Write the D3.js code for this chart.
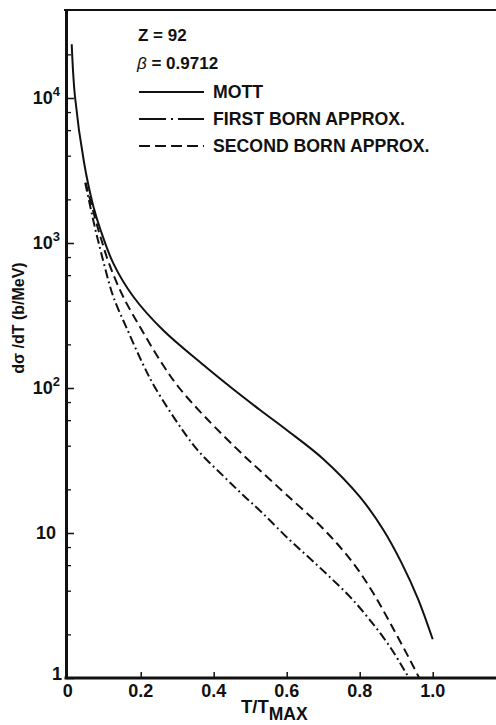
<!DOCTYPE html>
<html>
<head>
<meta charset="utf-8">
<script src="https://cdn.jsdelivr.net/npm/d3@7"></script>
<style>
  body { margin: 0; background: #fff; }
  svg { display: block; }
  text { font-family: "Liberation Sans", Arial, sans-serif; font-weight: bold; fill: #111; }
</style>
</head>
<body>
<div id="chart"></div>
<script>
// curves: T/Tmax and dsigma/dT (b/MeV)
var mottT   = [0.011, 0.02, 0.045, 0.07, 0.09, 0.125, 0.18, 0.261, 0.372, 0.445, 0.527, 0.6, 0.70, 0.80, 0.865, 0.915, 0.96, 1.0];
var mottV   = [23500, 10200, 3560, 1800, 1230, 724, 426, 251, 144, 102, 70.5, 51.3, 32.4, 17.8, 10.5, 6.2, 3.5, 1.85];

var born1T  = [0.048, 0.076, 0.085, 0.099, 0.125, 0.164, 0.205, 0.238, 0.315, 0.36, 0.428, 0.48, 0.534, 0.609, 0.663, 0.717, 0.773, 0.828, 0.883, 0.935];
var born1V  = [2600, 1230, 1000, 724, 426, 251, 148, 102, 51, 36.3, 24.5, 18.3, 13.7, 8.9, 6.7, 5.0, 3.64, 2.51, 1.64, 1.0];

var born2T  = [0.049, 0.084, 0.095, 0.113, 0.152, 0.203, 0.258, 0.303, 0.376, 0.481, 0.527, 0.6, 0.70, 0.778, 0.837, 0.888, 0.938, 0.963];
var born2V  = [2600, 1230, 1000, 724, 426, 251, 148, 102, 63.3, 34.5, 27.0, 18.3, 10.7, 6.4, 3.86, 2.28, 1.33, 1.0];

var xTicks = [0.2, 0.4, 0.6, 0.8, 1.0];
var xTickLabels = ["0", "0.2", "0.4", "0.6", "0.8", "1.0"];
var yMajor = [1, 10, 100, 1000, 10000];
var yMinor = [2, 4, 6, 8, 20, 40, 60, 80, 200, 400, 600, 800, 2000, 4000, 6000, 8000, 20000];

var legendNames = ["MOTT", "FIRST BORN APPROX.", "SECOND BORN APPROX."];
var curveDash = [null, "9,3.5,1.8,3.5", "9,5"];
var legendDash = [null, "27,5,2,5", "11,5"];

var W = 496, H = 725;
var svg = d3.select("#chart").append("svg")
    .attr("width", W)
    .attr("height", H);

var axLeft = 66, axBottom = 678, axTop = 10;

var x = d3.scaleLinear()
    .domain([0, 1])
    .range([67.7, 432.7]);

// 145 px per decade, 1 at the bottom axis
var y = d3.scaleLog()
    .domain([1, Math.pow(10, (axBottom - axTop) / 145)])
    .range([axBottom, axTop]);

// top frame
svg.append("line")
    .attr("x1", axLeft - 2).attr("x2", W)
    .attr("y1", axTop).attr("y2", axTop)
    .style("stroke", "#111").style("stroke-width", 2);

// left axis, major + minor ticks pointing inwards
var yAxisMaj = svg.append("g")
    .attr("transform", "translate(" + axLeft + ",0)")
    .call(d3.axisLeft(y).tickValues(yMajor).tickSizeInner(-8).tickSizeOuter(0).tickFormat(""));
yAxisMaj.select(".domain").style("stroke-width", 3).style("stroke", "#111");
yAxisMaj.selectAll(".tick line").style("stroke-width", 1.5).style("stroke", "#111");

var yAxisMin = svg.append("g")
    .attr("transform", "translate(" + axLeft + ",0)")
    .call(d3.axisLeft(y).tickValues(yMinor).tickSizeInner(-5).tickSizeOuter(0).tickFormat(""));
yAxisMin.select(".domain").remove();
yAxisMin.selectAll(".tick line").style("stroke-width", 1.3).style("stroke", "#111");

// bottom axis
var xAxis = svg.append("g")
    .attr("transform", "translate(0," + axBottom + ")")
    .call(d3.axisBottom(x).tickValues(xTicks).tickSizeInner(-6).tickSizeOuter(0).tickFormat(""));
xAxis.select(".domain").remove();
xAxis.selectAll(".tick line").style("stroke-width", 1.5).style("stroke", "#111");
svg.append("line")
    .attr("x1", axLeft - 1.5).attr("x2", W)
    .attr("y1", axBottom).attr("y2", axBottom)
    .style("stroke", "#111").style("stroke-width", 3);

// x tick labels
svg.selectAll(".xlab")
    .data([0].concat(xTicks))
  .enter().append("text")
    .attr("class", "xlab")
    .attr("x", function(d) { return x(d); })
    .attr("y", 697)
    .attr("text-anchor", "middle")
    .style("font-size", "18px")
    .text(function(d, i) { return xTickLabels[i]; });

// y tick labels: 1, 10, 10^2 ...
yMajor.forEach(function(v, i) {
  var t = svg.append("text")
      .attr("y", y(v) + 6)
      .attr("text-anchor", "end")
      .style("font-size", "18px");
  if (i === 0) {
    t.attr("x", 62).attr("y", y(v) + 2).text("1");
  } else if (i === 1) {
    t.attr("x", 56).text("10");
  } else {
    t.attr("x", 60);
    t.append("tspan").text("10");
    t.append("tspan").attr("dy", -8).style("font-size", "13px").text(i);
  }
});

// axis titles
svg.append("text")
    .attr("transform", "translate(24,318) rotate(-90)")
    .attr("text-anchor", "middle")
    .style("font-size", "16px")
    .text("d\u03C3 /dT (b/MeV)");

var xt = svg.append("text")
    .attr("x", 241)
    .attr("y", 713)
    .style("font-size", "18.5px");
xt.append("tspan").text("T/T");
xt.append("tspan").attr("dy", 7).style("font-size", "17.5px").text("MAX");

// curves
var line = d3.line()
    .x(function(d) { return x(d[0]); })
    .y(function(d) { return y(d[1]); })
    .curve(d3.curveCatmullRom.alpha(0.5));

var series = [
  d3.zip(mottT, mottV),
  d3.zip(born1T, born1V),
  d3.zip(born2T, born2V)
];

svg.selectAll(".curve")
    .data(series)
  .enter().append("path")
    .attr("class", "curve")
    .attr("d", line)
    .style("fill", "none")
    .style("stroke", "#111")
    .style("stroke-width", 2)
    .style("stroke-dasharray", function(d, i) { return curveDash[i]; });

// legend
svg.append("text").attr("x", 138).attr("y", 41).style("font-size", "17px").text("Z = 92");
var bt = svg.append("text").attr("x", 137).attr("y", 69).style("font-size", "17px");
bt.append("tspan").style("font-style", "italic").style("font-weight", "normal").text("\u03B2");
bt.append("tspan").text(" = 0.9712");

var leg = svg.selectAll(".leg")
    .data(legendNames)
  .enter().append("g")
    .attr("class", "leg")
    .attr("transform", function(d, i) { return "translate(0," + (92 + i * 27) + ")"; });
leg.append("line")
    .attr("x1", 139).attr("x2", 204)
    .style("stroke", "#111").style("stroke-width", 2)
    .style("stroke-dasharray", function(d, i) { return legendDash[i]; });
leg.append("text")
    .attr("x", 213).attr("y", 6)
    .style("font-size", "17.7px")
    .text(function(d) { return d; });
</script>
</body>
</html>
